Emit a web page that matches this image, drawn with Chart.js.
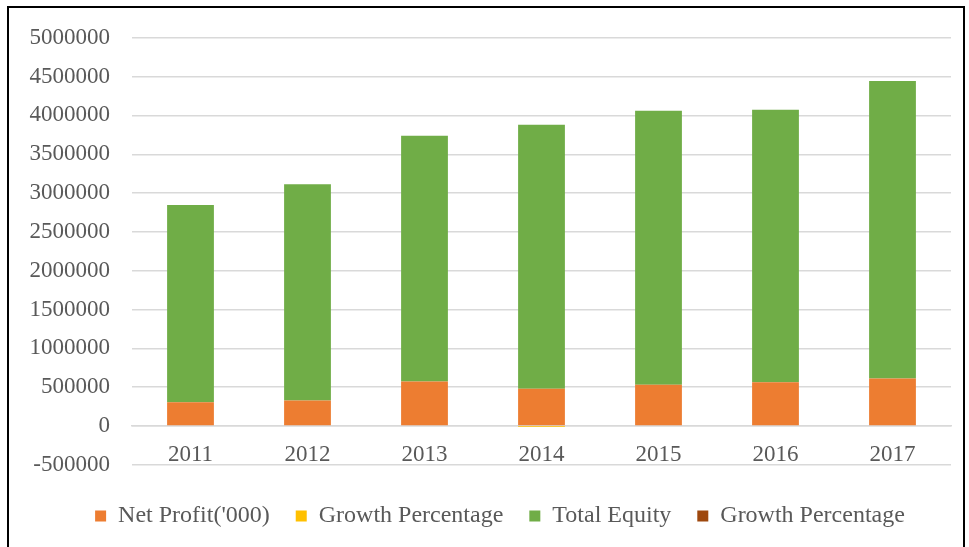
<!DOCTYPE html>
<html>
<head>
<meta charset="utf-8">
<script src="https://cdn.jsdelivr.net/npm/chart.js@4/dist/chart.umd.min.js"></script>
<style>
  html, body { margin: 0; padding: 0; background: #fff; }
  body { width: 969px; height: 547px; position: relative; overflow: hidden; }
  #frame { position: absolute; left: 7px; top: 6px; width: 958px; height: 560px; border: 2px solid #000; box-sizing: border-box; }
  #wrap { position: absolute; left: 9px; top: 2px; width: 956px; height: 545px; }
</style>
</head>
<body>
<div id="frame"></div>
<div id="wrap"><canvas id="c"></canvas></div>
<script>
const years = ['2011', '2012', '2013', '2014', '2015', '2016', '2017'];
const netProfit = [305000, 327000, 572000, 478000, 530000, 563000, 611000];
const netProfitGrowth = [0, 7, 75, -16, 11, 6, 9];
const totalEquity = [2541000, 2787000, 3166000, 3402000, 3531000, 3511000, 3833000];
const equityGrowth = [0, 10, 20, 4, 5, 0.3, 9];
const yTicks = [-500000, 0, 500000, 1000000, 1500000, 2000000, 2500000, 3000000, 3500000, 4000000, 4500000, 5000000];

const FONT = 'Liberation Serif, "Times New Roman", serif';
const TXT = '#595959';

// shift legend block slightly right, as in the reference
const legendShift = {
  id: 'legendShift',
  afterLayout(chart) {
    if (chart.legend) { chart.legend.left += 20; chart.legend.right += 20; }
  }
};

new Chart(document.getElementById('c'), {
  type: 'bar',
  data: {
    labels: years,
    datasets: [
      { label: "Net Profit('000)", data: netProfit, backgroundColor: '#ED7D31' },
      { label: 'Growth Percentage', data: netProfitGrowth, backgroundColor: '#FFC000', inflateAmount: 0 },
      { label: 'Total Equity', data: totalEquity, backgroundColor: '#70AD47' },
      { label: 'Growth Percentage', data: equityGrowth, backgroundColor: '#9E480E' }
    ]
  },
  plugins: [legendShift],
  options: {
    responsive: true,
    maintainAspectRatio: false,
    animation: false,
    categoryPercentage: 1.0,
    barPercentage: 0.4,
    layout: { padding: { left: 0, right: 14, top: 14, bottom: 9 } },
    plugins: {
      tooltip: { enabled: false },
      legend: {
        position: 'bottom',
        title: { display: true, text: ' ', font: { size: 1 }, padding: { top: 0, bottom: 12 } },
        labels: {
          font: { family: FONT, size: 24 },
          color: TXT,
          boxWidth: 11,
          boxHeight: 11,
          padding: 26
        }
      }
    },
    scales: {
      x: {
        stacked: true,
        position: { y: 0 },
        grid: { display: false, drawTicks: false },
        border: { display: true, color: '#d9d9d9', width: 1.5 },
        ticks: { font: { family: FONT, size: 23 }, color: TXT, padding: 15 }
      },
      y: {
        stacked: true,
        min: -500000,
        max: 5000000,
        afterBuildTicks: (s) => { s.ticks = yTicks.map(v => ({ value: v })); },
        afterFit: (s) => { s.width = 123; },
        grid: { color: '#d9d9d9', lineWidth: 1.5, drawTicks: false },
        border: { display: false },
        ticks: { font: { family: FONT, size: 23 }, color: TXT, padding: 22, callback: (v) => String(v) }
      }
    }
  }
});
</script>
</body>
</html>
